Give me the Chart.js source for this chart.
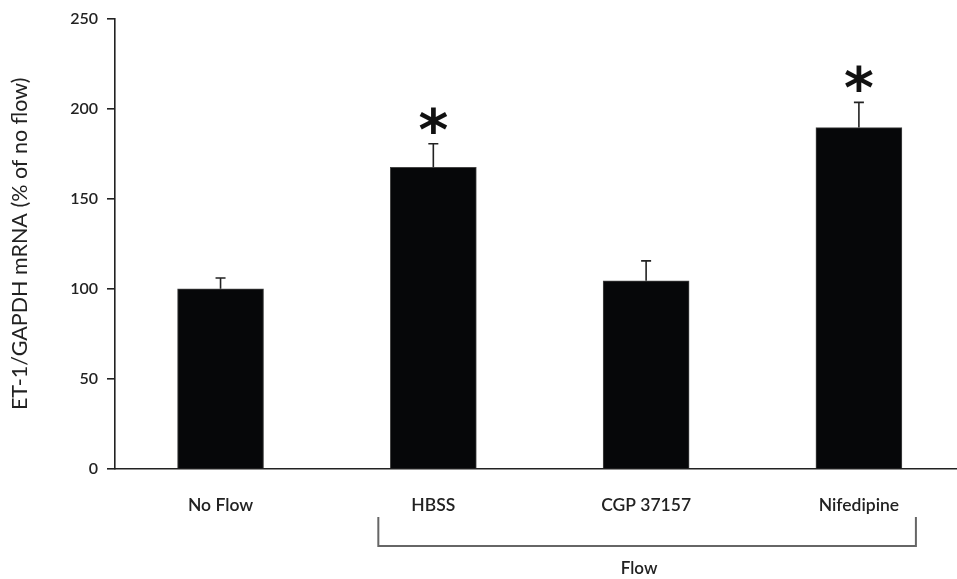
<!DOCTYPE html>
<html>
<head>
<meta charset="utf-8">
<script src="https://cdn.jsdelivr.net/npm/chart.js@4"></script>
<style>
  body { margin: 0; background: #fff; }
</style>
</head>
<body>
<canvas id="chart" width="957" height="579"></canvas>
<script>
var categories = ["No Flow", "HBSS", "CGP 37157", "Nifedipine"];
var values = [100, 167.5, 104.5, 189.5];
var errors = [6, 13, 11, 14];
var significant = [false, true, false, true];
var yTicks = [0, 50, 100, 150, 200, 250];
var groupLabel = "Flow";
var groupFrom = 1, groupTo = 3;

var extras = {
	id: "extras",
	afterDatasetsDraw: function (chart) {
		var ctx = chart.ctx;
		var x = chart.scales.x, y = chart.scales.y;
		var area = chart.chartArea;
		ctx.save();
		// error bars
		ctx.strokeStyle = "#222";
		ctx.lineWidth = 1.6;
		for (var i = 0; i < values.length; i++) {
			var cx = x.getPixelForValue(i);
			var top = y.getPixelForValue(values[i] + errors[i]);
			ctx.beginPath();
			ctx.moveTo(cx, y.getPixelForValue(values[i]));
			ctx.lineTo(cx, top);
			ctx.moveTo(cx - 5, top);
			ctx.lineTo(cx + 5, top);
			ctx.stroke();
			if (significant[i]) {
				ctx.fillStyle = "#111";
				ctx.font = "bold 57px 'DejaVu Sans'";
				ctx.textAlign = "center";
				ctx.textBaseline = "alphabetic";
				ctx.fillText("*", cx, top + 6);
			}
		}
		// group bracket
		var x1 = x.getPixelForValue(groupFrom) - 55;
		var x2 = x.getPixelForValue(groupTo) + 57;
		var b = area.bottom;
		ctx.strokeStyle = "#666";
		ctx.lineWidth = 2;
		ctx.beginPath();
		ctx.moveTo(x1, b + 48);
		ctx.lineTo(x1, b + 77);
		ctx.lineTo(x2, b + 77);
		ctx.lineTo(x2, b + 48);
		ctx.stroke();
		ctx.fillStyle = "#222";
		ctx.font = "600 17px Lato";
		ctx.textAlign = "center";
		ctx.textBaseline = "middle";
		ctx.fillText(groupLabel, (x1 + x2) / 2 - 8, b + 100);
		ctx.restore();
	}
};

var ctx = document.getElementById("chart").getContext("2d");
var myChart = new Chart(ctx, {
	type: "bar",
	data: {
		datasets: [
			{
				data: categories.map(function (c, i) { return { x: i, y: values[i] }; }),
				backgroundColor: "#060709",
				borderColor: "#444",
				borderWidth: { top: 1, left: 1, right: 1, bottom: 0 },
				barThickness: 86,
			},
		],
	},
	options: {
		responsive: false,
		animation: false,
		layout: { padding: { top: 16, right: 0, left: 0, bottom: 0 } },
		plugins: {
			legend: { display: false },
			tooltip: { enabled: false },
		},
		scales: {
			x: {
				type: "linear",
				offset: false,
				min: -0.496,
				max: 3.461,
				afterBuildTicks: function (scale) {
					scale.ticks = categories.map(function (c, i) { return { value: i }; });
				},
				afterFit: function (scale) { scale.height = 110; },
				grid: { display: true, drawOnChartArea: false, drawTicks: false, offset: false },
				border: { display: true, color: "#222", width: 1.6 },
				ticks: {
					padding: 26,
					color: "#222",
					font: { family: "Lato", size: 17.5, weight: "600" },
					callback: function (v) { return categories[v]; },
				},
			},
			y: {
				min: 0,
				max: 250,
				afterBuildTicks: function (scale) {
					scale.ticks = yTicks.map(function (v) { return { value: v }; });
				},
				afterFit: function (scale) { scale.width = 115; },
				grid: { display: true, drawOnChartArea: false, drawTicks: true, tickLength: 8, color: "#222", lineWidth: 1.6 },
				border: { display: true, color: "#222", width: 1.6 },
				ticks: {
					padding: 9,
					color: "#222",
					font: { family: "Lato", size: 16, weight: "600" },
				},
				title: {
					display: true,
					text: "ET-1/GAPDH mRNA (% of no flow)",
					color: "#222",
					font: { family: "Lato", size: 21.5 },
					padding: { top: 7, bottom: 0 },
				},
			},
		},
	},
	plugins: [extras],
});
</script>
</body>
</html>
